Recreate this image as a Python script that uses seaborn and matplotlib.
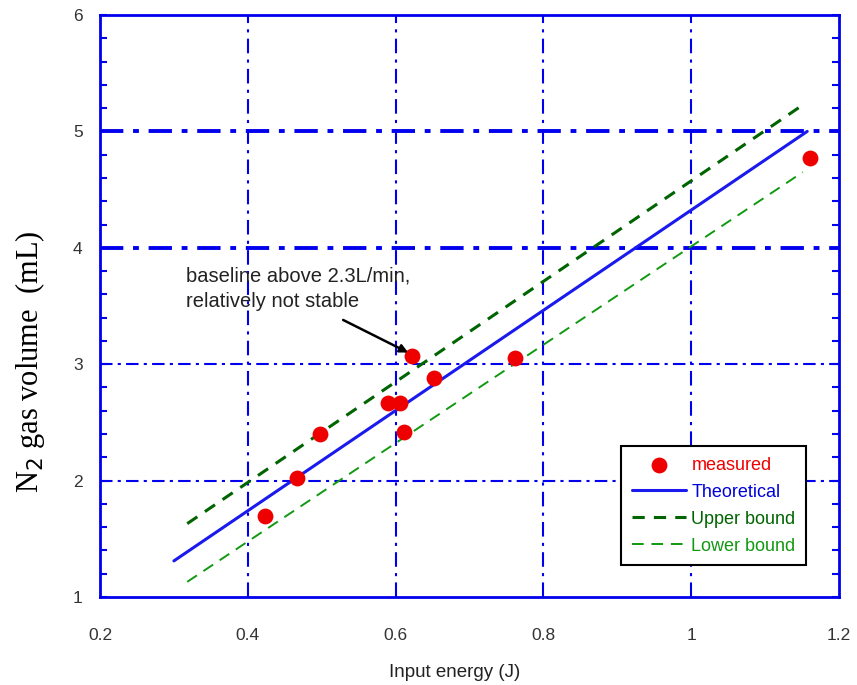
import matplotlib
matplotlib.use("Agg")
import matplotlib.pyplot as plt
import seaborn as sns
import pandas as pd
from matplotlib.ticker import MultipleLocator

# Data
meas_x = [0.423, 0.467, 0.498, 0.590, 0.606, 0.611, 0.622, 0.652, 0.762, 1.161]
meas_y = [1.70, 2.02, 2.40, 2.67, 2.67, 2.42, 3.07, 2.88, 3.05, 4.77]
theo_x = [0.30, 1.157]
theo_y = [1.31, 5.00]
upper_x = [0.318, 1.147]
upper_y = [1.63, 5.21]
lower_x = [0.318, 1.151]
lower_y = [1.13, 4.65]
x_ticks = [0.2, 0.4, 0.6, 0.8, 1.0, 1.2]
x_tick_labels = ["0.2", "0.4", "0.6", "0.8", "1", "1.2"]
y_ticks = [1, 2, 3, 4, 5, 6]
y_tick_labels = ["1", "2", "3", "4", "5", "6"]

sns.set_style("white")
plt.rcParams['font.family'] = ['Liberation Sans', 'DejaVu Sans']

fig = plt.figure(figsize=(8.57, 6.85), dpi=100)
ax = fig.add_axes([0.1167, 0.1285, 0.8623, 0.8496])

BLUE = "#0000ee"
ax.set_xlim(0.2, 1.2)
ax.set_ylim(1, 6)

# grid lines (dash-dot)
for gx in [0.4, 0.6, 0.8, 1.0]:
    ax.axvline(gx, color=BLUE, lw=1.5, ls=(0, (7, 3, 1.5, 3)), zorder=1)
for gy, lw in [(2, 1.5), (3, 1.5), (4, 2.8), (5, 2.8)]:
    ax.axhline(gy, color=BLUE, lw=lw, ls=(0, (6, 2.5, 1.5, 2.5)), zorder=1)

df_m = pd.DataFrame({"x": meas_x, "y": meas_y})
df_t = pd.DataFrame({"x": theo_x, "y": theo_y})
df_u = pd.DataFrame({"x": upper_x, "y": upper_y})
df_l = pd.DataFrame({"x": lower_x, "y": lower_y})

sns.lineplot(data=df_t, x="x", y="y", ax=ax, color="#1a1aee", lw=2.2,
             label="Theoretical", zorder=3)
sns.lineplot(data=df_u, x="x", y="y", ax=ax, color="#006400", lw=2.2,
             label="Upper bound", zorder=3)
ax.lines[-1].set_linestyle((0, (4, 3)))
sns.lineplot(data=df_l, x="x", y="y", ax=ax, color="#119911", lw=1.4,
             label="Lower bound", zorder=3)
ax.lines[-1].set_linestyle((0, (6, 4)))
sns.scatterplot(data=df_m, x="x", y="y", ax=ax, color="#ee0000", s=130,
                edgecolor="#ee0000", linewidth=0, label="measured", zorder=4)

# spines
for sp in ax.spines.values():
    sp.set_color(BLUE)
    sp.set_linewidth(2)
    sp.set_visible(True)

ax.set_xticks(x_ticks)
ax.set_xticklabels(x_tick_labels)
ax.set_yticks(y_ticks)
ax.set_yticklabels(y_tick_labels)
ax.yaxis.set_minor_locator(MultipleLocator(0.2))
ax.tick_params(axis="y", which="both", direction="in", color=BLUE,
               left=True, right=True, length=5, width=1.5,
               labelsize=12.5, labelcolor="#333333", pad=12.5)
ax.tick_params(axis="x", which="both", bottom=False, top=False,
               labelsize=12.5, labelcolor="#333333", pad=18.5)

ax.set_xlabel("Input energy (J)", fontsize=13.5, color="#222222", va="center")
ax.xaxis.set_label_coords(0.48, -0.129)
ax.set_ylabel("N$_2$ gas volume  (mL)", fontsize=22, color="black",
              family="Liberation Serif", va="center")
ax.yaxis.set_label_coords(-0.0947, 0.404)

# annotation
ax.text(0.316, 3.646, "baseline above 2.3L/min,\nrelatively not stable",
        fontsize=14.5, color="#222222", va="center", ha="left",
        linespacing=1.4, zorder=5)
ax.annotate("", xy=(0.617, 3.10), xytext=(0.529, 3.38), zorder=5,
            arrowprops=dict(arrowstyle="-|>", color="black", lw=1.8,
                            shrinkA=0, shrinkB=0, mutation_scale=12))

# legend
handles, labels = ax.get_legend_handles_labels()
order = [labels.index(l) for l in ["measured", "Theoretical", "Upper bound", "Lower bound"]]
leg = ax.legend([handles[i] for i in order], [labels[i] for i in order],
                loc="upper left", bbox_to_anchor=(0.705, 0.2595),
                borderaxespad=0,
                frameon=True, fancybox=False, edgecolor="black",
                fontsize=13, handlelength=3.0, handletextpad=0.3,
                borderpad=0.6, labelspacing=0.55, framealpha=1)
leg.get_frame().set_linewidth(1.5)
for txt, c in zip(leg.get_texts(), ["#ee0000", "#0000dd", "#006400", "#119911"]):
    txt.set_color(c)

fig.savefig("out.png", dpi=100)
